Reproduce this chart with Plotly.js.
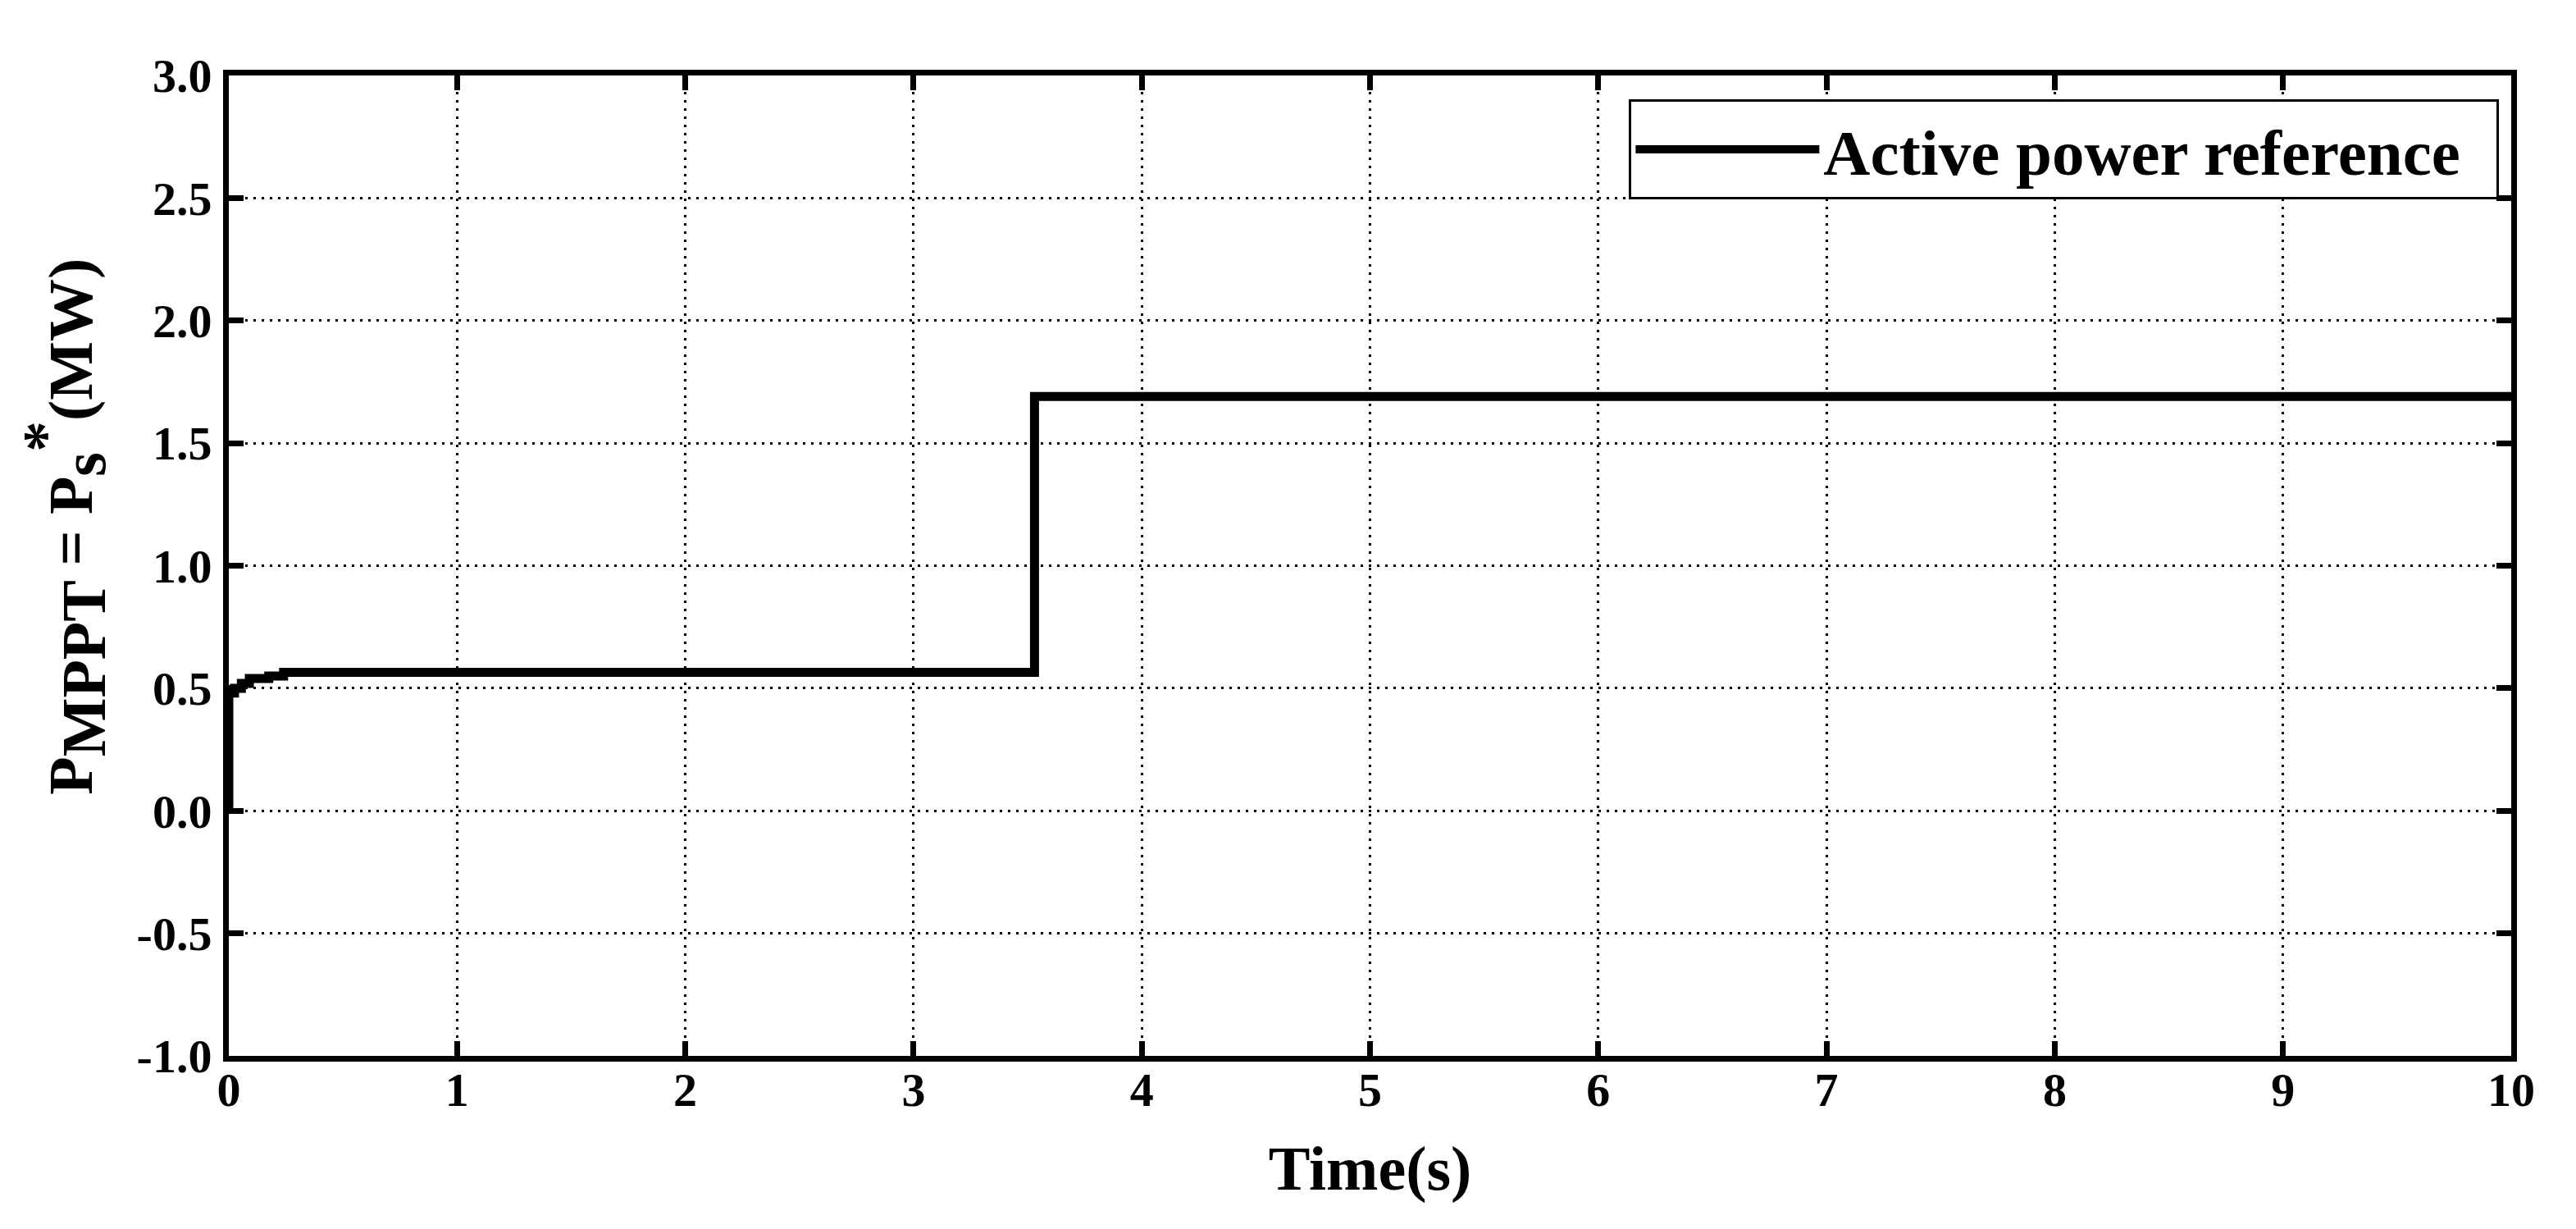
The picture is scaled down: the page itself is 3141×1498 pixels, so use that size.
<!DOCTYPE html>
<html>
<head>
<meta charset="utf-8">
<script src="https://cdn.plot.ly/plotly-3.0.1.min.js"></script>
<style>html,body{margin:0;padding:0;background:#fff;}#chart{width:3141px;height:1498px;}</style>
</head>
<body>
<div id="chart"></div>
<script>
// Data
const timeS = [0, 0, 0.025, 0.055, 0.09, 0.175, 0.24, 3.53, 10];
const activePowerMW = [0, 0.48, 0.50, 0.52, 0.54, 0.55, 0.565, 1.69, 1.69];
const seriesName = 'Active power reference';
const xTickVals = [0, 1, 2, 3, 4, 5, 6, 7, 8, 9, 10];
const yTickVals = [-1, -0.5, 0, 0.5, 1, 1.5, 2, 2.5, 3];
const yTickText = ['-1.0', '-0.5', '0.0', '0.5', '1.0', '1.5', '2.0', '2.5', '3.0'];
const xTitle = 'Time(s)';
const yTitle = "P<sub><span style='font-size:76px'>MPPT</span></sub> = P<sub><span style='font-size:76px'>s</span></sub><sup><span style='font-size:76px'>*</span></sup>(MW)";

const FONT = 'Liberation Serif, Times New Roman, serif';
const NBSP = '\u00a0';

const trace = {
  x: timeS,
  y: activePowerMW,
  type: 'scatter',
  mode: 'lines',
  name: seriesName + NBSP + NBSP,
  line: {color: '#000', width: 11, shape: 'hv'},
  showlegend: true
};

const axisCommon = {
  showline: true, linewidth: 7, linecolor: '#000',
  mirror: 'ticks', ticks: 'inside', ticklen: 18, tickwidth: 7, tickcolor: '#000',
  showgrid: true, gridcolor: '#000', gridwidth: 3, griddash: '3px,7px',
  zeroline: false,
  tickfont: {family: FONT, size: 58, color: '#000', weight: 'bold'}
};

const layout = {
  width: 3141, height: 1498,
  margin: {l: 279, r: 79, t: 92, b: 211, pad: 0},
  paper_bgcolor: '#fff', plot_bgcolor: '#fff',
  xaxis: Object.assign({}, axisCommon, {
    range: [0, 10], tickmode: 'array', tickvals: xTickVals, ticklabelstandoff: -16,
    title: {text: xTitle, font: {family: FONT, size: 76, color: '#000', weight: 'bold'}, standoff: 40}
  }),
  yaxis: Object.assign({}, axisCommon, {
    range: [-1, 3], tickmode: 'array', tickvals: yTickVals, ticktext: yTickText, ticklabelstandoff: 2
  }),
  legend: {
    x: 0.6135, y: 0.9757, xanchor: 'left', yanchor: 'top',
    bordercolor: '#000', borderwidth: 3, bgcolor: '#fff',
    font: {family: FONT, size: 79, color: '#000', weight: 'bold'},
    itemwidth: 224
  },
  annotations: [{
    text: yTitle, xref: 'paper', yref: 'paper',
    x: -0.0722, y: 0.54, xanchor: 'center', yanchor: 'middle',
    textangle: -90, showarrow: false,
    font: {family: FONT, size: 76, color: '#000', weight: 'bold'}
  }]
};

Plotly.newPlot('chart', [trace], layout, {displayModeBar: false, staticPlot: true});
</script>
</body>
</html>
